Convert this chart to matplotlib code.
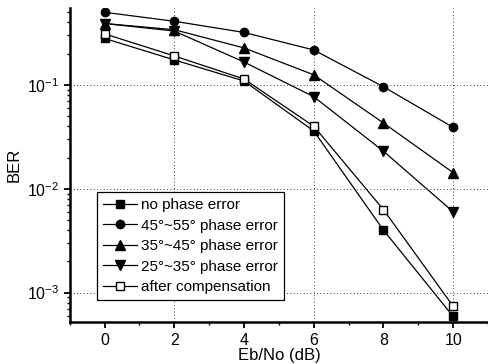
import matplotlib
matplotlib.use("Agg")
import matplotlib.pyplot as plt
from matplotlib.ticker import LogLocator, FixedLocator, NullFormatter

plt.rcParams['font.family'] = ['Liberation Sans', 'DejaVu Sans']

ebno = [0, 2, 4, 6, 8, 10]
no_err = [0.28, 0.174, 0.109, 0.036, 0.004, 0.00059]
err_45_55 = [0.50, 0.41, 0.32, 0.217, 0.096, 0.039]
err_35_45 = [0.39, 0.34, 0.227, 0.125, 0.043, 0.0143]
err_25_35 = [0.39, 0.33, 0.166, 0.077, 0.023, 0.006]
after_comp = [0.31, 0.19, 0.114, 0.040, 0.0063, 0.00074]

labels = ["no phase error", "45°~55° phase error", "35°~45° phase error",
          "25°~35° phase error", "after compensation"]
grid_x = [2, 6, 10]
grid_y = [1e-1, 1e-2, 1e-3]
xticks = [0, 2, 4, 6, 8, 10]

fig = plt.figure(figsize=(4.88, 3.64), dpi=100)
ax = fig.add_axes([0.143, 0.115, 0.857, 0.863])

ms = 6
kw = dict(color='black', lw=0.9)
ax.plot(ebno, no_err, marker='s', ms=ms-0.5, mfc='black', mec='black', label=labels[0], **kw)
ax.plot(ebno, err_45_55, marker='o', ms=ms, mfc='black', mec='black', label=labels[1], **kw)
ax.plot(ebno, err_35_45, marker='^', ms=ms+0.5, mfc='black', mec='black', label=labels[2], **kw)
ax.plot(ebno, err_25_35, marker='v', ms=ms+0.5, mfc='black', mec='black', label=labels[3], **kw)
ax.plot(ebno, after_comp, marker='s', ms=ms-0.5, mfc='white', mec='black', mew=1.0, label=labels[4], **kw)

for gx in grid_x:
    ax.axvline(gx, color='black', lw=0.6, ls=(0, (1, 3)), zorder=0)
for gy in grid_y:
    ax.axhline(gy, color='black', lw=0.6, ls=(0, (1, 3)), zorder=0)

ax.set_yscale('log')
ax.set_xlim(-1, 11)
ax.set_ylim(5.2e-4, 0.55)
ax.xaxis.set_major_locator(FixedLocator(xticks))
ax.xaxis.set_minor_locator(FixedLocator([-1, 1, 3, 5, 7, 9, 11]))
ax.yaxis.set_major_locator(LogLocator(base=10, numticks=10))
ax.yaxis.set_minor_locator(LogLocator(base=10, subs=[2, 3, 4, 5, 6, 7, 8, 9], numticks=10))
ax.yaxis.set_minor_formatter(NullFormatter())

for s in ['top', 'right']:
    ax.spines[s].set_visible(False)
for s in ['left', 'bottom']:
    ax.spines[s].set_linewidth(1.8)

ax.tick_params(axis='both', which='major', direction='out', length=4, width=1.3, labelsize=11.5)
ax.tick_params(axis='both', which='minor', direction='out', length=2.5, width=1.0)
ax.set_xlabel('Eb/No (dB)', fontsize=12, labelpad=0)
ax.set_ylabel('BER', fontsize=12, labelpad=4)

leg = ax.legend(loc='lower left', bbox_to_anchor=(0.065, 0.07), fontsize=11,
                frameon=True, fancybox=False, edgecolor='black', framealpha=1,
                handlelength=2.2, handletextpad=0.3, labelspacing=0.42, borderpad=0.4,
                borderaxespad=0)
leg.get_frame().set_linewidth(0.9)

fig.savefig('out.png', dpi=100)
